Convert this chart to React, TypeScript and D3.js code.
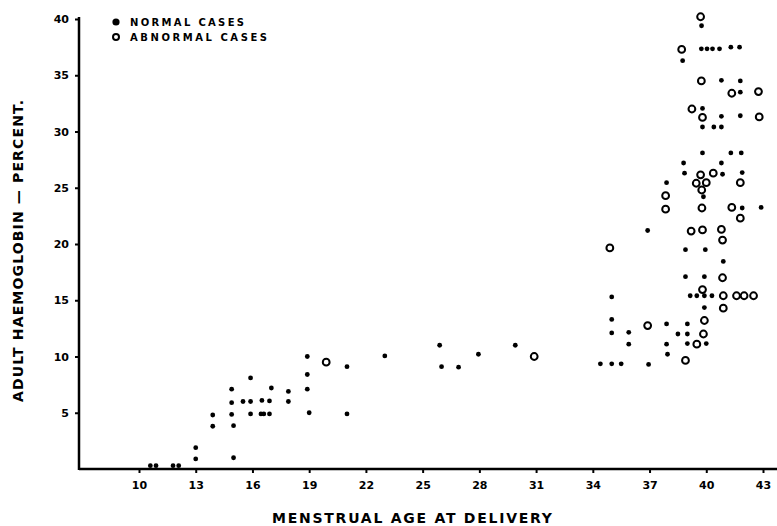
import React, { useEffect, useRef } from "react";
import * as d3 from "d3";

// menstrual age (weeks) vs adult haemoglobin (%)
const normalAge = [
	10.6, 10.9, 11.8, 12.1, 13, 13, 13.9, 13.9, 14.9, 14.9, 14.9, 15, 15, 15.5, 15.9, 15.9, 15.9,
	16.5, 16.45, 16.6, 16.9, 16.9, 17, 17.9, 17.9, 18.9, 18.9, 18.9, 19, 21, 21, 23, 25.9, 26,
	26.9, 27.95, 29.9, 35, 39.15, 39.5, 39.9, 40.3, 39.9, 35, 37.9, 39, 35, 35.9, 38.5, 39, 35.9,
	37.9, 39, 40, 37.95, 34.4, 35, 35.5, 36.95, 39.8, 41.3, 41.85, 38.8, 40.8, 38.85, 40.86, 41.9,
	37.9, 39.85, 41.9, 42.9, 36.9, 38.9, 39.95, 40.9, 38.9, 39.9, 39.75, 38.75, 39.74, 40.04,
	40.33, 40.7, 41.3, 41.76, 40.8, 41.8, 41.8, 39.8, 40.8, 41.8, 39.8, 40.4, 40.8,
];
const normalHb = [
	0.3, 0.3, 0.3, 0.3, 1.9, 0.9, 4.8, 3.8, 7.1, 5.9, 4.85, 3.85, 1.0, 6.0, 8.1, 6.0, 4.9,
	6.1, 4.9, 4.9, 6.05, 4.9, 7.2, 6.9, 6.0, 10.0, 8.4, 7.1, 5.0, 9.1, 4.9, 10.05, 11.0, 9.1,
	9.05, 10.2, 11.0, 15.3, 15.4, 15.4, 15.4, 15.4, 14.35, 13.3, 12.9, 12.9, 12.1, 12.15, 12.0, 12.0, 11.1,
	11.1, 11.15, 11.15, 10.2, 9.35, 9.35, 9.35, 9.3, 28.1, 28.1, 28.1, 27.2, 27.2, 26.3, 26.2, 26.35,
	25.45, 24.2, 23.2, 23.25, 21.2, 19.5, 19.5, 18.45, 17.1, 17.1, 39.4, 36.3, 37.35, 37.35,
	37.35, 37.35, 37.5, 37.5, 34.55, 34.5, 33.5, 32.05, 31.35, 31.4, 30.4, 30.4, 30.4,
];
const abnormalAge = [
	19.9, 30.9, 36.9, 39.9, 39.85, 39.5, 38.9, 40.9, 41.6, 42.0, 42.5, 40.9, 39.8, 40.86, 34.9,
	40.86, 39.2, 39.8, 40.8, 41.8, 37.85, 39.77, 41.35, 37.85, 39.76, 39.47, 40.0, 41.8, 39.7,
	40.37, 39.7, 38.7, 39.74, 41.35, 42.76, 39.24, 39.8, 42.8,
];
const abnormalHb = [
	9.5, 10.0, 12.75, 13.2, 12.0, 11.1, 9.65, 15.4, 15.4, 15.4, 15.4, 14.3, 15.95, 17.0, 19.65,
	20.35, 21.15, 21.25, 21.3, 22.3, 23.1, 23.2, 23.25, 24.3, 24.8, 25.4, 25.45, 25.45, 26.15,
	26.3, 40.2, 37.3, 34.5, 33.4, 33.55, 32.0, 31.25, 31.3,
];
const xTicks = [10, 13, 16, 19, 22, 25, 28, 31, 34, 37, 40, 43];
const yTicks = [5, 10, 15, 20, 25, 30, 35, 40];

const font = "'DejaVu Sans', sans-serif";

const App: React.FC = () => {
	const ref = useRef<SVGSVGElement>(null);

	useEffect(() => {
		const svg = d3.select(ref.current);
		svg.selectAll("*").remove();

		const width = 777;
		const height = 526;
		const axisX = 79;
		const axisY = 469;

		const x = d3.scaleLinear().domain([10, 43]).range([139, 763]);
		const y = d3.scaleLinear().domain([0, 40]).range([axisY, 19]);

		svg.append("rect").attr("width", width).attr("height", height).attr("fill", "#fff");

		// axes
		const xAxis = svg
			.append("g")
			.attr("transform", `translate(0,${axisY})`)
			.call(d3.axisBottom(x).tickValues(xTicks).tickSize(4).tickPadding(8).tickFormat(d3.format("d")));
		xAxis.select(".domain").remove();
		xAxis.selectAll("line").attr("stroke", "#000").attr("stroke-width", 2);
		xAxis
			.selectAll("text")
			.attr("font-family", font)
			.attr("font-weight", "bold")
			.attr("font-size", 11)
			.attr("fill", "#000");

		const yAxis = svg
			.append("g")
			.attr("transform", `translate(${axisX},0)`)
			.call(d3.axisLeft(y).tickValues(yTicks).tickSize(4).tickPadding(6).tickFormat(d3.format("d")));
		yAxis.select(".domain").remove();
		yAxis.selectAll("line").attr("stroke", "#000").attr("stroke-width", 2);
		yAxis
			.selectAll("text")
			.attr("font-family", font)
			.attr("font-weight", "bold")
			.attr("font-size", 11)
			.attr("fill", "#000");

		svg.append("line")
			.attr("x1", axisX).attr("x2", width)
			.attr("y1", axisY).attr("y2", axisY)
			.attr("stroke", "#000").attr("stroke-width", 2.5);
		svg.append("line")
			.attr("x1", axisX).attr("x2", axisX)
			.attr("y1", 17).attr("y2", axisY + 1)
			.attr("stroke", "#000").attr("stroke-width", 2.5);

		// titles
		svg.append("text")
			.attr("x", 412).attr("y", 523)
			.attr("text-anchor", "middle")
			.attr("font-family", font).attr("font-weight", "bold").attr("font-size", 14)
			.attr("textLength", 280).attr("lengthAdjust", "spacing")
			.text("MENSTRUAL AGE AT DELIVERY");
		svg.append("text")
			.attr("transform", "translate(23,251) rotate(-90)")
			.attr("text-anchor", "middle")
			.attr("font-family", font).attr("font-weight", "bold").attr("font-size", 14)
			.attr("textLength", 302).attr("lengthAdjust", "spacing")
			.text("ADULT HAEMOGLOBIN — PERCENT.");

		// points
		const normal = normalAge.map((a, i) => [a, normalHb[i]]);
		const abnormal = abnormalAge.map((a, i) => [a, abnormalHb[i]]);

		svg.append("g")
			.selectAll("circle")
			.data(normal)
			.join("circle")
			.attr("cx", (d) => x(d[0]))
			.attr("cy", (d) => y(d[1]))
			.attr("r", 2.4)
			.attr("fill", "#000");

		svg.append("g")
			.selectAll("circle")
			.data(abnormal)
			.join("circle")
			.attr("cx", (d) => x(d[0]))
			.attr("cy", (d) => y(d[1]))
			.attr("r", 3.4)
			.attr("fill", "none")
			.attr("stroke", "#000")
			.attr("stroke-width", 2);

		// legend
		const legend = svg.append("g").attr("transform", "translate(116,22)");
		legend.append("circle").attr("r", 3.6).attr("fill", "#000");
		legend.append("circle").attr("cy", 15).attr("r", 3).attr("fill", "none").attr("stroke", "#000").attr("stroke-width", 2);
		legend.append("text")
			.attr("x", 14).attr("y", 4)
			.attr("font-family", font).attr("font-weight", "bold").attr("font-size", 10)
			.attr("textLength", 114).attr("lengthAdjust", "spacing")
			.text("NORMAL CASES");
		legend.append("text")
			.attr("x", 14).attr("y", 19)
			.attr("font-family", font).attr("font-weight", "bold").attr("font-size", 10)
			.attr("textLength", 137).attr("lengthAdjust", "spacing")
			.text("ABNORMAL CASES");
	}, []);

	return (
		<svg
			ref={ref}
			width={777}
			height={526}
			style={{ position: "absolute", left: 0, top: 0, display: "block" }}
		/>
	);
};

export default App;
